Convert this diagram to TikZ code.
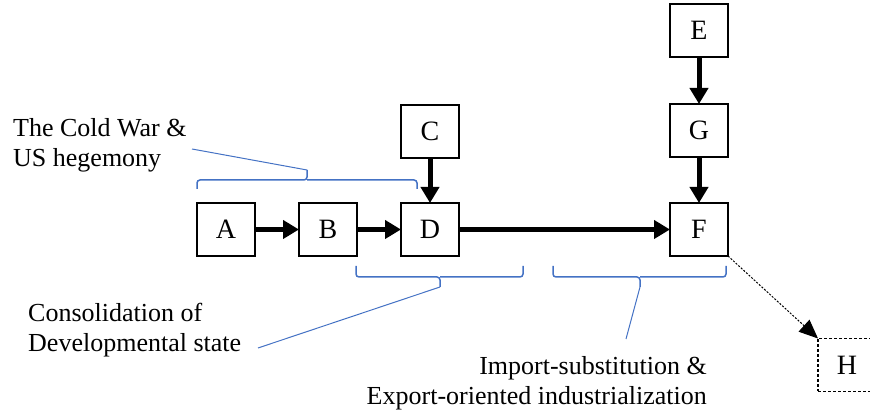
\documentclass[tikz,border=0pt]{standalone}
\usepackage{fontspec}
\setmainfont{Liberation Serif}
\usetikzlibrary{arrows.meta,positioning}
\definecolor{bracecol}{RGB}{68,114,196}

\begin{document}
\begin{tikzpicture}[x=1pt,y=1pt]
  \tikzset{
  box/.style = {
  draw,
  line width = 1.3pt,
  minimum width = 58pt,
  minimum height = 53pt,
  inner sep = 0pt,
  outer sep = 0pt,
  font = \fontsize{28}{30}\selectfont},
  flow/.style = {line width=5pt, -{Triangle[length=16pt,width=18pt]}},
  weakflow/.style = {line width=1pt, dash pattern=on 2pt off 1.5pt,
    -{Triangle[length=19pt,width=16pt]}},
  bracket/.style = {draw=bracecol, line width=1.5pt, rounded corners=3pt},
  callout/.style = {draw=bracecol, line width=1pt},
  note/.style = {font=\fontsize{26}{30}\selectfont, inner sep=0pt}}
  \clip (0,0) rectangle (870,414);
  % main chain
  \node[box] (A) at (226,184.5) {A};
  \node[box, right=44pt of A] (B) {B};
  \node[box, right=44pt of B] (D) {D};
  \node[box, right=211pt of D] (F) {F};
  \node[box, above=45pt of D] (C) {C};
  \node[box, above=46pt of F] (G) {G};
  \node[box, above=47pt of G] (E) {E};
  \node[box, dash pattern=on 3pt off 2pt, line width=1.1pt] (H) at (847,49) {H};
  \draw[flow] (A) -- (B);
  \draw[flow] (B) -- (D);
  \draw[flow] (C) -- (D);
  \draw[flow] (D) -- (F);
  \draw[flow] (E) -- (G);
  \draw[flow] (G) -- (F);
  \draw[weakflow] (F.south east) -- (H.north west);
  % brackets
  \draw[bracket] (197,225) |- (307,234) -- (307,244) coordinate (topCW);
  \draw[bracket] (307,234) -| (417,225);
  \draw[bracket] (356,148) |- (440,137) -- (440,127) coordinate (botDS);
  \draw[bracket] (440,137) -| (523,148);
  \draw[bracket] (553,148) |- (640,137) -- (640,127) coordinate (botIS);
  \draw[bracket] (640,137) -| (726,148);
  % notes
  \node[note, align=left, anchor=base west] (coldwar) at (13,247)
    {The Cold War \&\\US hegemony};
  \node[note, align=left, anchor=base west] (consol) at (28,62)
    {Consolidation of\\Developmental state};
  \node[note, align=right, anchor=base east] (indus) at (707,9)
    {Import-substitution \&\\Export-oriented industrialization};
  \coordinate (endCW) at (192,265);
  \coordinate (endDS) at (258,66);
  \coordinate (endIS) at (626,75);
  \draw[callout] (topCW) -- (endCW);
  \draw[callout] (botDS) -- (endDS);
  \draw[callout] (botIS) -- (endIS);
\end{tikzpicture}
\end{document}
